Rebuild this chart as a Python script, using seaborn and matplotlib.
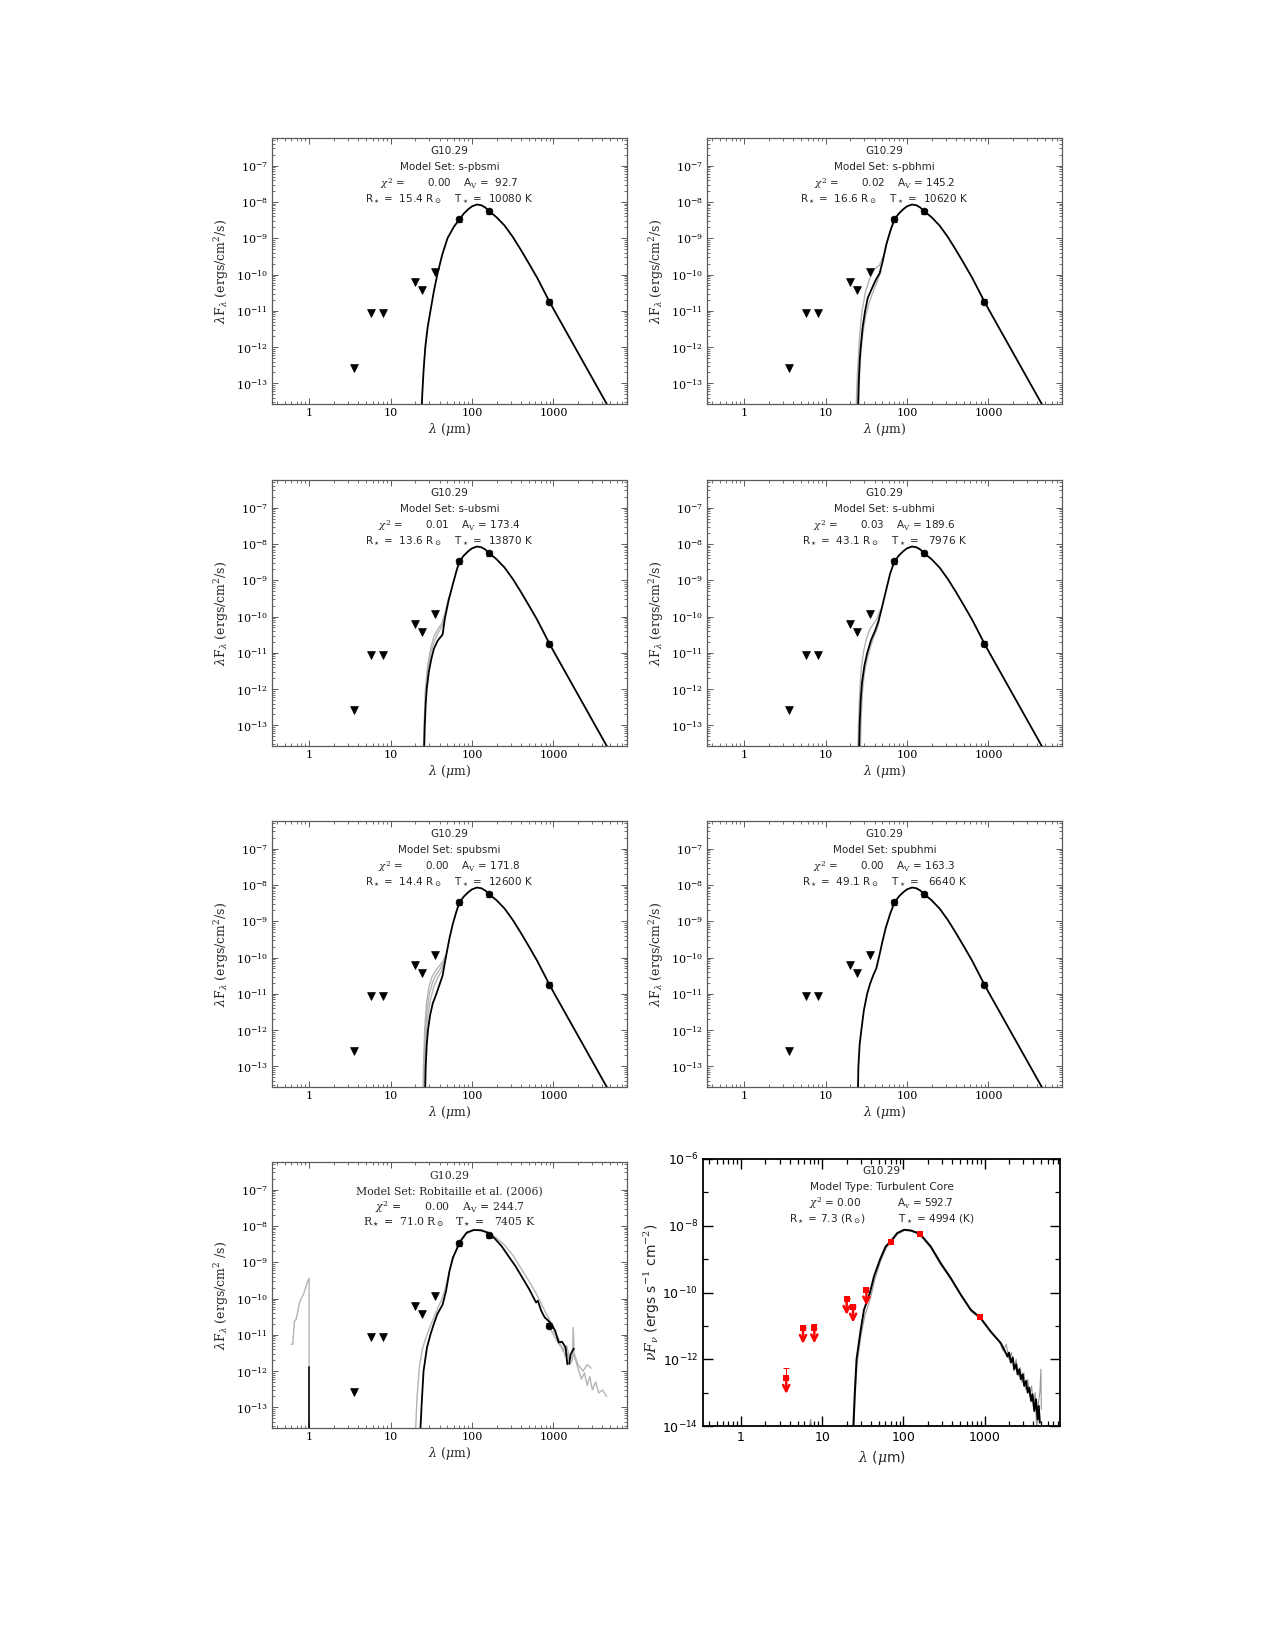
import numpy as np
import pandas as pd
import matplotlib
matplotlib.use('Agg')
import matplotlib.pyplot as plt
from matplotlib.ticker import LogLocator, FuncFormatter, NullFormatter
import seaborn as sns

# ---- photometry of G10.29 (same in every panel) ----
lim_wl = [3.6, 5.8, 8.0, 20.0, 24.0, 35.0]
lim_f = [2.7e-13, 8.5e-12, 8.8e-12, 6.3e-11, 3.7e-11, 1.2e-10]
lim_err_hi = [2.7e-13, 0.5e-12, 2.7e-12, 0.6e-11, 0.4e-11, 0.2e-10]
det_wl = [70.0, 160.0, 870.0]
det_f = [3.3e-9, 5.6e-9, 1.8e-11]
det_err = [0.5e-9, 0.8e-9, 0.3e-11]

# ---- best fit parameters ----
model_sets = ['s-pbsmi', 's-pbhmi', 's-ubsmi', 's-ubhmi', 'spubsmi', 'spubhmi']
chi2 = [0.00, 0.02, 0.01, 0.03, 0.00, 0.00]
av = [92.7, 145.2, 173.4, 189.6, 171.8, 163.3]
rstar = [15.4, 16.6, 13.6, 43.1, 14.4, 49.1]
tstar = [10080, 10620, 13870, 7976, 12600, 6640]

rob_chi2, rob_av, rob_r, rob_t = 0.00, 244.7, 71.0, 7405
tc_chi2, tc_av, tc_r, tc_t = 0.00, 592.7, 7.3, 4994

# ---- model SEDs, log10(lambda F_lambda) ----
# far-IR part shared by the six 2017 model sets
tail_wl = [70, 80, 90, 100, 115, 130, 145, 160, 200, 251, 316, 398, 501, 631, 871, 1000, 1585, 2512, 3981, 5012]
tail_lf = [-8.48, -8.31, -8.20, -8.12, -8.07, -8.09, -8.15, -8.24, -8.42, -8.65, -8.96, -9.32, -9.70,
           -10.09, -10.70, -10.95, -11.75, -12.55, -13.35, -13.75]

rise_wl = {
    's-pbsmi': [23.8, 24.5, 25.5, 26.7, 28.5, 30.9, 34, 37.5, 43, 50, 60],
    's-pbhmi': [24.8, 25.5, 26.2, 27, 28.5, 30.6, 33, 37.8, 42, 46, 50, 56, 63],
    's-ubsmi': [25.6, 26.3, 27, 27.8, 29.5, 31.5, 34, 38, 43.5, 46.5, 52, 58, 64],
    's-ubhmi': [25.6, 26.2, 27, 28, 30, 32.5, 36, 40, 42, 45, 48, 55, 62],
    'spubsmi': [26.4, 27, 27.8, 28.8, 30.5, 33, 36.5, 40, 43.5, 48, 53, 58, 64],
    'spubhmi': [24.8, 25.3, 26.2, 27.5, 29.5, 32.4, 35, 38.3, 42, 46, 50, 55, 62],
}
rise_lf = {
    's-pbsmi': [-14, -13.3, -12.6, -12, -11.46, -11, -10.46, -10, -9.46, -9, -8.68],
    's-pbhmi': [-14, -13, -12.4, -12, -11.46, -11, -10.64, -10.34, -10.12, -9.97, -9.66, -9.15, -8.77],
    's-ubsmi': [-14, -13, -12.4, -12, -11.52, -11.19, -10.89, -10.66, -10.5, -10.04, -9.52, -9.12, -8.77],
    's-ubhmi': [-14, -13, -12.3, -11.82, -11.35, -11, -10.66, -10.42, -10.3, -10.1, -9.85, -9.3, -8.82],
    'spubsmi': [-14, -13, -12.4, -12, -11.6, -11.26, -11, -10.74, -10.5, -9.96, -9.46, -9.08, -8.75],
    'spubhmi': [-14, -13, -12.4, -12, -11.46, -11, -10.74, -10.5, -10.3, -9.92, -9.55, -9.17, -8.8],
}
# other acceptable fits (grey)
grey_wl = {
    's-pbsmi': [],
    's-pbhmi': [[23.5, 24.5, 26, 28, 31, 35, 40, 46, 52, 60, 70],
                [25.3, 26, 27, 28.8, 31, 34, 38, 43, 48]],
    's-ubsmi': [[25, 25.8, 26.8, 28.5, 31, 34, 38, 42, 46, 52],
                [25.3, 26.2, 27.3, 29, 31.5, 35, 39, 43, 47]],
    's-ubhmi': [[24.8, 25.4, 26.2, 27.5, 29.5, 32, 35, 39, 43, 47],
                [26.5, 27.3, 28.3, 29.8, 32, 35, 38.5, 42, 46]],
    'spubsmi': [[24.8, 25.4, 26.2, 27.5, 29.5, 32, 36, 40, 44, 48],
                [25.2, 25.8, 26.7, 28, 30, 33, 37, 41, 45],
                [25.7, 26.3, 27.2, 28.6, 31, 34, 38, 42, 46]],
    'spubhmi': [],
}
grey_lf = {
    's-pbsmi': [],
    's-pbhmi': [[-14, -12.8, -11.8, -11, -10.46, -10.1, -9.85, -9.74, -9.45, -8.92, -8.48],
                [-14, -12.9, -12.2, -11.6, -11.15, -10.8, -10.5, -10.2, -9.9]],
    's-ubsmi': [[-14, -13, -12, -11.35, -10.89, -10.55, -10.35, -10.22, -9.96, -9.46],
                [-14, -12.8, -11.96, -11.4, -10.96, -10.64, -10.42, -10.26, -9.98]],
    's-ubhmi': [[-14, -13, -12.1, -11.4, -10.92, -10.59, -10.35, -10.19, -10.05, -9.82],
                [-14, -12.82, -12.1, -11.6, -11.22, -10.89, -10.6, -10.4, -10.12]],
    'spubsmi': [[-14, -13, -12, -11.3, -10.82, -10.55, -10.35, -10.22, -10.1, -9.92],
                [-14, -13, -12.1, -11.46, -11, -10.66, -10.44, -10.3, -10.12],
                [-14, -13, -12.22, -11.6, -11.15, -10.8, -10.55, -10.38, -10.1]],
    'spubhmi': [],
}

# Robitaille et al. (2006) best fit
rob_wl = [22.8, 24.1, 25.4, 28.0, 30.8, 34.0, 37.5, 43.5, 48.0, 52.9, 58.3, 67.6, 74.5, 86.3, 105, 128, 155,
          189, 230, 280, 340, 414, 503, 583, 612, 642, 709, 780, 862, 950, 1050, 1160, 1275, 1410, 1480]
rob_lf = [-14.0, -12.9, -12.0, -11.35, -11.0, -10.7, -10.43, -10.17, -9.79, -9.24, -8.87, -8.55, -8.37, -8.18,
          -8.11, -8.12, -8.18, -8.34, -8.55, -8.83, -9.10, -9.42, -9.74, -10.02, -10.11, -10.06, -10.34,
          -10.52, -10.61, -10.71, -10.89, -11.21, -11.19, -11.35, -11.81]
rob2_wl = [1560, 1620, 1700, 1780]
rob2_lf = [-11.8, -11.55, -11.45, -11.38]
rob_star_wl = [1.0, 1.0]
rob_star_lf = [-11.89, -14.0]
rob_g_star_wl = [0.6, 0.63, 0.66, 0.69, 0.72, 0.76, 0.8, 0.85, 0.9, 0.95, 1.0, 1.0]
rob_g_star_lf = [-11.26, -11.26, -10.62, -10.58, -10.4, -10.12, -10.0, -9.89, -9.72, -9.55, -9.44, -11.89]
rob_g1_wl = [20, 21, 22.5, 24.5, 27, 30, 34, 38, 42, 46, 52, 60, 70, 85, 105, 130, 160, 200, 250, 320,
             400, 500, 600, 700, 800, 900, 1000]
rob_g1_lf = [-14, -12.82, -11.92, -11.4, -11.1, -10.82, -10.52, -10.26, -10.05, -9.8, -9.3, -8.82, -8.48,
             -8.22, -8.12, -8.1, -8.18, -8.33, -8.52, -8.82, -9.17, -9.52, -9.82, -10.12, -10.38, -10.6, -10.8]
rob_g2_wl = [900, 1000, 1100, 1200, 1300, 1400, 1500, 1600, 1700, 1750, 1800, 1900, 2000, 2200, 2400, 2600,
             2800, 3000, 3300, 3600, 4000, 4500]
rob_g2_lf = [-10.8, -11.0, -11.15, -11.3, -11.35, -11.6, -11.52, -11.82, -11.7, -10.8, -11.6, -11.74, -11.92,
             -12.22, -12.05, -12.4, -12.15, -12.52, -12.3, -12.6, -12.52, -12.7]
rob_g3_wl = [1000, 1150, 1300, 1450, 1600, 1800, 2000, 2300, 2600, 2900]
rob_g3_lf = [-10.9, -11.1, -11.45, -11.3, -11.7, -11.52, -11.82, -12.0, -11.82, -11.92]

# Turbulent core model (nu F_nu)
tc_wl = [24.0, 25.2, 26.5, 29.8, 32.7, 38.8, 43.4, 51.8, 60.5, 69.7, 84, 102, 123, 160, 217, 288, 384, 511,
         678, 885, 1190, 1590, 1920, 2000, 2110, 2230, 2320, 2450, 2550, 2680, 2800, 2950, 3080, 3250, 3400,
         3550, 3750, 3900, 4100, 4300, 4500, 4650, 4800]
tc_lf = [-14.2, -13.0, -12.0, -11.12, -10.52, -10.0, -9.52, -9.0, -8.62, -8.47, -8.22, -8.12, -8.14, -8.24,
         -8.62, -9.12, -9.57, -10.07, -10.52, -10.75, -11.17, -11.52, -11.92, -11.8, -12.1, -11.95, -12.3,
         -12.15, -12.45, -12.3, -12.6, -12.45, -12.8, -12.65, -13.0, -12.85, -13.25, -13.05, -13.55, -13.2,
         -13.8, -13.4, -13.9]
tc_g_wl = [24.5, 25.5, 27, 30, 33.5, 39.5, 44, 52, 61, 70, 85, 103, 125, 160, 220, 290, 390, 520, 690, 900,
           1200, 1500, 1700, 1850, 2000, 2150, 2300, 2450, 2600, 2750, 2900, 3050, 3200, 3400, 3600, 3800,
           4000, 4200, 4400, 4600, 4800, 4950, 5000]
tc_g_lf = [-14.2, -13.1, -12.1, -11.3, -10.7, -10.15, -9.65, -9.08, -8.68, -8.5, -8.25, -8.14, -8.16, -8.28,
           -8.68, -9.18, -9.63, -10.12, -10.58, -10.8, -11.2, -11.45, -11.75, -11.55, -12.0, -11.8, -12.35,
           -12.0, -12.5, -12.25, -12.7, -12.4, -12.9, -12.6, -13.1, -12.8, -13.4, -13.0, -14.2, -13.3, -13.0,
           -12.3, -13.5]
tc_blip_wl = [6.9, 7.2, 7.5]
tc_blip_lf = [-14.1, -13.8, -14.1]

# ---- style ----
sns.set_theme(style='ticks')
plt.rcParams['font.family'] = ['DejaVu Serif']
plt.rcParams['mathtext.fontset'] = 'dejavuserif'
plt.rcParams['axes.facecolor'] = 'white'
plt.rcParams['figure.facecolor'] = 'white'

FRAME = '#5a5a5a'
GREY = '#b4b4b4'

fig = plt.figure(figsize=(12.75, 16.5), dpi=100)


def new_axes(x0, top, bottom, width=355):
    return fig.add_axes([x0 / 1275, 1 - bottom / 1650, width / 1275, (bottom - top) / 1650])


def curve(ax, wl, lf, color, lw, zorder=2):
    sns.lineplot(x=wl, y=10 ** np.array(lf, dtype=float), ax=ax, color=color, lw=lw,
                 estimator=None, sort=False, zorder=zorder)


def style_2017(ax, ylab):
    ax.set_xscale('log')
    ax.set_yscale('log')
    ax.set_xlim(0.35, 8000)
    ax.set_ylim(2.7e-14, 5.8e-7)
    ax.xaxis.set_major_locator(LogLocator(base=10, numticks=12))
    ax.xaxis.set_minor_locator(LogLocator(base=10, subs=np.arange(2, 10), numticks=40))
    ax.xaxis.set_major_formatter(FuncFormatter(lambda v, p: '%g' % v))
    ax.xaxis.set_minor_formatter(NullFormatter())
    ax.yaxis.set_major_locator(LogLocator(base=10, numticks=20))
    ax.yaxis.set_minor_locator(LogLocator(base=10, subs=np.arange(2, 10), numticks=40))
    ax.yaxis.set_minor_formatter(NullFormatter())
    ax.tick_params(which='both', direction='in', top=True, right=True, color=FRAME,
                   labelcolor='black', labelsize=8, pad=3)
    ax.tick_params(which='major', length=4, width=0.7)
    ax.tick_params(which='minor', length=2, width=0.6)
    for s in ax.spines.values():
        s.set_color(FRAME)
        s.set_linewidth(0.9)
    ax.set_xlabel(r'$\lambda$ ($\mu$m)', fontsize=9, labelpad=2)
    ax.set_ylabel(ylab, fontsize=9, labelpad=3)


def observed(ax):
    sns.scatterplot(x=lim_wl, y=lim_f, ax=ax, marker='v', s=32, color='black', edgecolor='black',
                    linewidth=0.5, zorder=5)
    ax.errorbar(det_wl, det_f, yerr=det_err, fmt='none', ecolor='black', elinewidth=0.8,
                capsize=2.5, capthick=0.8, zorder=5)
    sns.scatterplot(x=det_wl, y=det_f, ax=ax, marker='o', s=24, color='black', edgecolor='black',
                    linewidth=0.5, zorder=6)


def header(ax, lines, ys, family, size):
    for txt, y in zip(lines, ys):
        ax.text(0.5, y, txt, transform=ax.transAxes, ha='center', va='center',
                fontsize=size, family=family)


cols = [272, 707]
rows = [(138, 404), (480, 746), (821, 1087)]
head_y = [0.953, 0.890, 0.830, 0.773]
ylab = r'$\lambda$F$_\lambda$ (ergs/cm$^2$/s)'

for i, ms in enumerate(model_sets):
    top, bottom = rows[i // 2]
    ax = new_axes(cols[i % 2], top, bottom)
    style_2017(ax, ylab)
    for gw, gl in zip(grey_wl[ms], grey_lf[ms]):
        curve(ax, gw, gl, GREY, 1.0, zorder=2)
    curve(ax, rise_wl[ms] + tail_wl, rise_lf[ms] + tail_lf, 'black', 1.3, zorder=3)
    observed(ax)
    lines = ['G10.29', 'Model Set: ' + ms,
             r'$\chi^2$ = %10.2f    A$_{\rm V}$ = %5.1f' % (chi2[i], av[i]),
             r'R$_\star$ = %5.1f R$_\odot$    T$_\star$ = %6d K' % (rstar[i], tstar[i])]
    header(ax, lines, head_y, 'DejaVu Sans', 7.5)

# ---- Robitaille et al. (2006) panel ----
ax = new_axes(272, 1162, 1428)
style_2017(ax, r'$\lambda$F$_\lambda$ (ergs/cm$^2$ /s)')
curve(ax, rob_g_star_wl, rob_g_star_lf, GREY, 1.0)
curve(ax, rob_g1_wl, rob_g1_lf, GREY, 1.0)
curve(ax, rob_g2_wl, rob_g2_lf, GREY, 1.0)
curve(ax, rob_g3_wl, rob_g3_lf, GREY, 1.0)
curve(ax, rob_star_wl, rob_star_lf, 'black', 1.2, zorder=3)
curve(ax, rob_wl, rob_lf, 'black', 1.3, zorder=3)
curve(ax, rob2_wl, rob2_lf, 'black', 1.3, zorder=3)
observed(ax)
lines = ['G10.29', 'Model Set: Robitaille et al. (2006)',
         r'$\chi^2$ = %10.2f    A$_{\rm V}$ = %5.1f' % (rob_chi2, rob_av),
         r'R$_\star$ = %5.1f R$_\odot$   T$_\star$ = %6d K' % (rob_r, rob_t)]
header(ax, lines, [0.948, 0.888, 0.831, 0.775], 'DejaVu Serif', 7.8)

# ---- Turbulent core panel ----
ax = new_axes(703, 1159, 1426, width=357)
ax.set_xscale('log')
ax.set_yscale('log')
ax.set_xlim(0.34, 8500)
ax.set_ylim(1e-14, 1e-6)
curve(ax, tc_blip_wl, tc_blip_lf, '#999999', 0.8)
curve(ax, tc_g_wl, tc_g_lf, '#999999', 0.8)
curve(ax, tc_wl, tc_lf, 'black', 1.4, zorder=3)
ax.errorbar(lim_wl, lim_f, yerr=[np.zeros(len(lim_f)), lim_err_hi], fmt='none', ecolor='red',
            elinewidth=0.7, capsize=2, capthick=0.7, zorder=4)
for w, f in zip(lim_wl, lim_f):
    ax.annotate('', xy=(w, f / 10 ** 0.47), xytext=(w, f),
                arrowprops=dict(arrowstyle='->', color='red', lw=1.8, mutation_scale=11,
                                shrinkA=0, shrinkB=0), zorder=5)
sns.scatterplot(x=lim_wl + det_wl, y=lim_f + det_f, ax=ax, marker='s', s=18, color='red',
                edgecolor='red', linewidth=0, zorder=6)
ax.yaxis.set_major_locator(LogLocator(base=100, numticks=10))
ax.yaxis.set_minor_locator(LogLocator(base=10, subs=[1.0], numticks=20))
ax.yaxis.set_minor_formatter(NullFormatter())
ax.yaxis.set_major_formatter(FuncFormatter(lambda v, p: r'$\mathsf{10^{%d}}$' % round(np.log10(v))))
ax.xaxis.set_major_locator(LogLocator(base=10, numticks=12))
ax.xaxis.set_minor_locator(LogLocator(base=10, subs=np.arange(2, 10), numticks=40))
ax.xaxis.set_major_formatter(FuncFormatter(lambda v, p: '%g' % v))
ax.xaxis.set_minor_formatter(NullFormatter())
ax.tick_params(which='both', direction='in', top=True, right=True, color='black',
               labelcolor='black', labelsize=9)
ax.tick_params(which='major', length=7, width=1.0)
ax.tick_params(which='minor', length=3.5, width=0.9)
for lab in ax.get_xticklabels() + ax.get_yticklabels():
    lab.set_family('DejaVu Sans')
for s in ax.spines.values():
    s.set_color('black')
    s.set_linewidth(1.3)
ax.set_xlabel(r'$\lambda$ ($\mu$m)', fontsize=10, family='DejaVu Sans', labelpad=4)
ax.set_ylabel(r'$\nu F_\nu$ (ergs s$^{-1}$ cm$^{-2}$)', fontsize=10, family='DejaVu Sans', labelpad=0)
lines = ['G10.29', 'Model Type: Turbulent Core',
         r'$\boldsymbol{\chi^2}$ = %.2f           A$_{\rm v}$ = %.1f' % (tc_chi2, tc_av),
         r'R$_\star$ = %.1f (R$_\odot$)          T$_\star$ = %d (K)' % (tc_r, tc_t)]
header(ax, lines, [0.956, 0.896, 0.835, 0.775], 'DejaVu Sans', 7.6)

fig.savefig('out.png', dpi=100, facecolor='white')
